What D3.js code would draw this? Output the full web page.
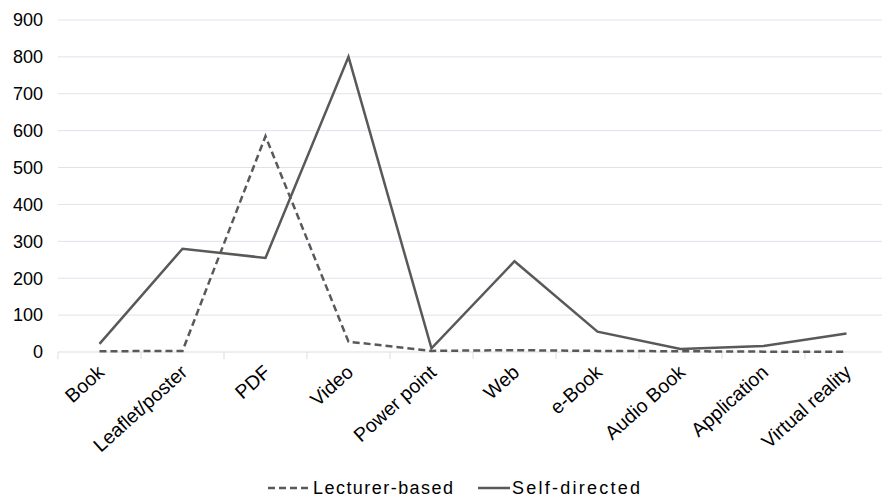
<!DOCTYPE html>
<html>
<head>
<meta charset="utf-8">
<script src="https://cdn.jsdelivr.net/npm/d3@7"></script>
<style>
	body { margin: 0; background: #fff; }
	svg text { font-family: "Liberation Sans", Arial, sans-serif; fill: #000; }
</style>
</head>
<body>
<div id="chart"></div>
<script>
var categories = ["Book", "Leaflet/poster", "PDF", "Video", "Power point", "Web", "e-Book", "Audio Book", "Application", "Virtual reality"];
var lecturerBased = [2, 3, 585, 28, 3, 5, 3, 2, 1, 1];
var selfDirected = [22, 280, 255, 800, 10, 246, 55, 8, 16, 50];
var yTicks = [0, 100, 200, 300, 400, 500, 600, 700, 800, 900];
var seriesNames = ["Lecturer-based", "Self-directed"];

var width = 882, height = 498;
var margins = {top: 20, right: -6, bottom: 146, left: 58};

var svg = d3.select("#chart").append("svg")
	.attr("width", width)
	.attr("height", height);

var x = d3.scaleBand()
	.domain(categories)
	.range([margins.left, width - margins.right]);
var y = d3.scaleLinear()
	.domain([0, 900])
	.range([height - margins.bottom, margins.top]);

// gridlines
svg.append("g").selectAll("line")
	.data(yTicks.slice(1))
	.enter().append("line")
	.attr("x1", margins.left)
	.attr("x2", width)
	.attr("y1", function(d){ return y(d); })
	.attr("y2", function(d){ return y(d); })
	.attr("stroke", "#dde3ec")
	.attr("stroke-width", 1);

// y labels
svg.append("g").selectAll("text")
	.data(yTicks)
	.enter().append("text")
	.attr("x", 43)
	.attr("y", function(d){ return y(d); })
	.attr("dy", "0.35em")
	.attr("text-anchor", "end")
	.attr("font-size", "18px")
	.text(function(d){ return d; });

// x axis
var xAxis = svg.append("g")
	.attr("transform", "translate(0," + y(0) + ")");
xAxis.append("line")
	.attr("x1", margins.left).attr("x2", width)
	.attr("stroke", "#d9dde3");
xAxis.selectAll("line.tick")
	.data(categories)
	.enter().append("line")
	.attr("class", "tick")
	.attr("x1", function(d){ return x(d); })
	.attr("x2", function(d){ return x(d); })
	.attr("y1", 0).attr("y2", 7)
	.attr("stroke", "#d9dde3");
xAxis.selectAll("text")
	.data(categories)
	.enter().append("text")
	.attr("transform", function(d){
		return "translate(" + (x(d) + x.bandwidth()/2 + 6) + ",22) rotate(-42)";
	})
	.attr("text-anchor", "end")
	.attr("font-size", "19.5px")
	.text(function(d){ return d; });

// lines
var line = d3.line()
	.x(function(d, i){ return x(categories[i]) + x.bandwidth()/2; })
	.y(function(d){ return y(d); });

svg.append("path")
	.datum(lecturerBased)
	.attr("d", line)
	.attr("fill", "none")
	.attr("stroke", "#595959")
	.attr("stroke-width", 2.5)
	.attr("stroke-dasharray", "7,4");

svg.append("path")
	.datum(selfDirected)
	.attr("d", line)
	.attr("fill", "none")
	.attr("stroke", "#595959")
	.attr("stroke-width", 2.5);

// legend
var legend = svg.append("g").attr("transform", "translate(0,488)");
legend.append("line")
	.attr("x1", 268).attr("x2", 309)
	.attr("stroke", "#595959").attr("stroke-width", 2.5)
	.attr("stroke-dasharray", "7,4");
legend.append("text")
	.attr("x", 313).attr("dy", "0.35em")
	.attr("font-size", "18px")
	.attr("textLength", 140)
	.text(seriesNames[0]);
legend.append("line")
	.attr("x1", 478).attr("x2", 510)
	.attr("stroke", "#595959").attr("stroke-width", 2.5);
legend.append("text")
	.attr("x", 512).attr("dy", "0.35em")
	.attr("font-size", "18px")
	.attr("textLength", 128)
	.text(seriesNames[1]);
</script>
</body>
</html>
